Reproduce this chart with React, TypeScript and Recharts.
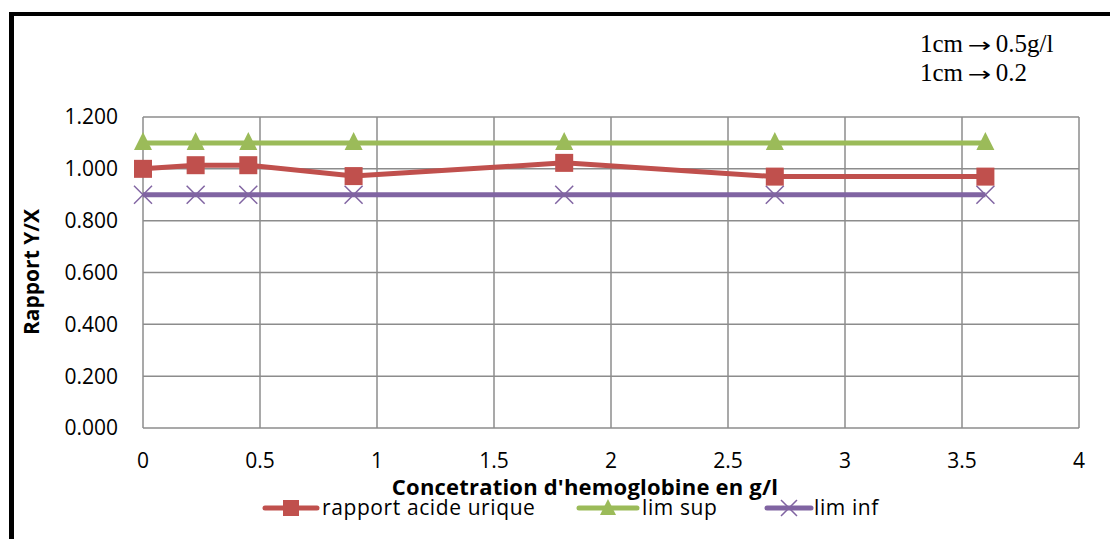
import { CartesianGrid, Legend, Line, LineChart, XAxis, YAxis } from "recharts";

const concentrations = [0, 0.225, 0.45, 0.9, 1.8, 2.7, 3.6];
const rapportAcideUrique = [1.0, 1.014, 1.014, 0.972, 1.023, 0.97, 0.97];
const limSup = [1.1, 1.1, 1.1, 1.1, 1.1, 1.1, 1.1];
const limInf = [0.9, 0.9, 0.9, 0.9, 0.9, 0.9, 0.9];
const xTicks = [0, 0.5, 1, 1.5, 2, 2.5, 3, 3.5, 4];
const yTicks = [0, 0.2, 0.4, 0.6, 0.8, 1.0, 1.2];
const seriesNames = ["rapport acide urique", "lim sup", "lim inf"];

const RED = "#C0504D";
const GREEN = "#9BBB59";
const PURPLE = "#8064A2";

const data = concentrations.map((x, i) => ({
  x,
  rapport: rapportAcideUrique[i],
  sup: limSup[i],
  inf: limInf[i],
}));

type DotProps = { cx?: number; cy?: number; index?: number };

const SquareDot = ({ cx = 0, cy = 0, index }: DotProps) => (
  <rect key={`sq-${index}`} x={cx - 9} y={cy - 9} width={18} height={18} fill={RED} />
);

const TriangleDot = ({ cx = 0, cy = 0, index }: DotProps) => (
  <polygon key={`tr-${index}`} points={`${cx},${cy - 11} ${cx + 9},${cy + 7} ${cx - 9},${cy + 7}`} fill={GREEN} />
);

const CrossDot = ({ cx = 0, cy = 0, index }: DotProps) => (
  <g key={`x-${index}`} stroke={PURPLE} strokeWidth={1.5}>
    <line x1={cx - 9} y1={cy - 9} x2={cx + 9} y2={cy + 9} />
    <line x1={cx - 9} y1={cy + 9} x2={cx + 9} y2={cy - 9} />
  </g>
);

// legend layout: line start / width, text start
const legendLayout = [
  { color: RED, shape: "square", x: 262, w: 58, tx: 322 },
  { color: GREEN, shape: "triangle", x: 576, w: 64, tx: 642 },
  { color: PURPLE, shape: "cross", x: 764, w: 50, tx: 814 },
];

const LegendIcon = ({ color, shape, w }: { color: string; shape: string; w: number }) => {
  const cx = w / 2;
  const cy = 12;
  return (
    <svg width={w} height={24} style={{ display: "block" }}>
      <line x1={3} y1={cy} x2={w - 3} y2={cy} stroke={color} strokeWidth={5} strokeLinecap="round" />
      {shape === "square" && <rect x={cx - 8} y={cy - 8} width={16} height={16} fill={color} />}
      {shape === "triangle" && <polygon points={`${cx},${cy - 9} ${cx + 8},${cy + 7} ${cx - 8},${cy + 7}`} fill={color} />}
      {shape === "cross" && (
        <g stroke={color} strokeWidth={1.5}>
          <line x1={cx - 8} y1={cy - 8} x2={cx + 8} y2={cy + 8} />
          <line x1={cx - 8} y1={cy + 8} x2={cx + 8} y2={cy - 8} />
        </g>
      )}
    </svg>
  );
};

const ChartLegend = () => (
  <>
    {legendLayout.map((item, i) => (
      <div key={seriesNames[i]}>
        <div style={{ position: "absolute", left: item.x, top: 496 }}>
          <LegendIcon color={item.color} shape={item.shape} w={item.w} />
        </div>
        <div
          style={{
            position: "absolute",
            left: item.tx,
            top: 495,
            fontFamily: "'Open Sans', sans-serif",
            fontSize: 21,
            lineHeight: "24px",
            letterSpacing: 0.6,
            whiteSpace: "nowrap",
          }}
        >
          {seriesNames[i]}
        </div>
      </div>
    ))}
  </>
);

export default function App() {
  const tickStyle = { fontSize: 21, fill: "#000", fontFamily: "'Open Sans', sans-serif" };
  const arrowStyle = {
    display: "inline-block",
    fontFamily: "'DejaVu Sans', sans-serif",
    fontSize: 20,
    transform: "scaleX(1.4)",
    margin: "0 8px",
  };
  return (
    <div style={{ position: "fixed", left: 0, top: 0, width: 1110, height: 539, background: "#fff", overflow: "hidden" }}>
      <div
        style={{
          position: "absolute",
          left: 9,
          top: 12,
          width: 1200,
          height: 600,
          borderLeft: "5px solid #000",
          borderTop: "4px solid #000",
        }}
      />
      <LineChart
        width={1110}
        height={539}
        data={data}
        margin={{ top: 117, right: 31, left: 20, bottom: 0 }}
        style={{ position: "absolute", left: 0, top: 0 }}
      >
        <CartesianGrid stroke="#8c8c8c" strokeWidth={1.5} />
        <XAxis
          dataKey="x"
          type="number"
          domain={[0, 4]}
          ticks={xTicks}
          axisLine={false}
          tickLine={false}
          tickSize={0}
          tickMargin={25}
          height={111}
          tick={tickStyle}
          interval={0}
        />
        <YAxis
          type="number"
          domain={[0, 1.2]}
          ticks={yTicks}
          axisLine={false}
          tickLine={false}
          tickSize={0}
          tickMargin={25}
          width={123}
          tick={tickStyle}
          tickFormatter={(v: number) => v.toFixed(3)}
          interval={0}
        />
        <Line dataKey="sup" stroke={GREEN} strokeWidth={5} dot={TriangleDot} isAnimationActive={false} />
        <Line dataKey="inf" stroke={PURPLE} strokeWidth={5} dot={CrossDot} isAnimationActive={false} />
        <Line type="linear" dataKey="rapport" stroke={RED} strokeWidth={5} dot={SquareDot} isAnimationActive={false} />
        <Legend content={() => null} />
      </LineChart>
      <div
        style={{
          position: "absolute",
          left: 31,
          top: 272,
          transform: "translate(-50%, -50%) rotate(-90deg)",
          fontFamily: "'Open Sans', sans-serif",
          fontWeight: 700,
          fontSize: 21,
          whiteSpace: "nowrap",
          lineHeight: 1,
        }}
      >
        Rapport Y/X
      </div>
      <div
        style={{
          position: "absolute",
          left: 585,
          top: 477,
          transform: "translateX(-50%)",
          fontFamily: "'Open Sans', sans-serif",
          fontWeight: 700,
          fontSize: 22,
          whiteSpace: "nowrap",
          lineHeight: "18px",
          letterSpacing: 0.2,
        }}
      >
        Concetration d'hemoglobine en g/l
      </div>
      <ChartLegend />
      <div
        style={{
          position: "absolute",
          left: 920,
          top: 30,
          fontFamily: "'Liberation Serif', serif",
          fontSize: 25,
          lineHeight: "28px",
          whiteSpace: "nowrap",
        }}
      >
        <div>
          1cm<span style={arrowStyle}>→</span>0.5g/l
        </div>
        <div>
          1cm<span style={arrowStyle}>→</span>0.2
        </div>
      </div>
    </div>
  );
}
